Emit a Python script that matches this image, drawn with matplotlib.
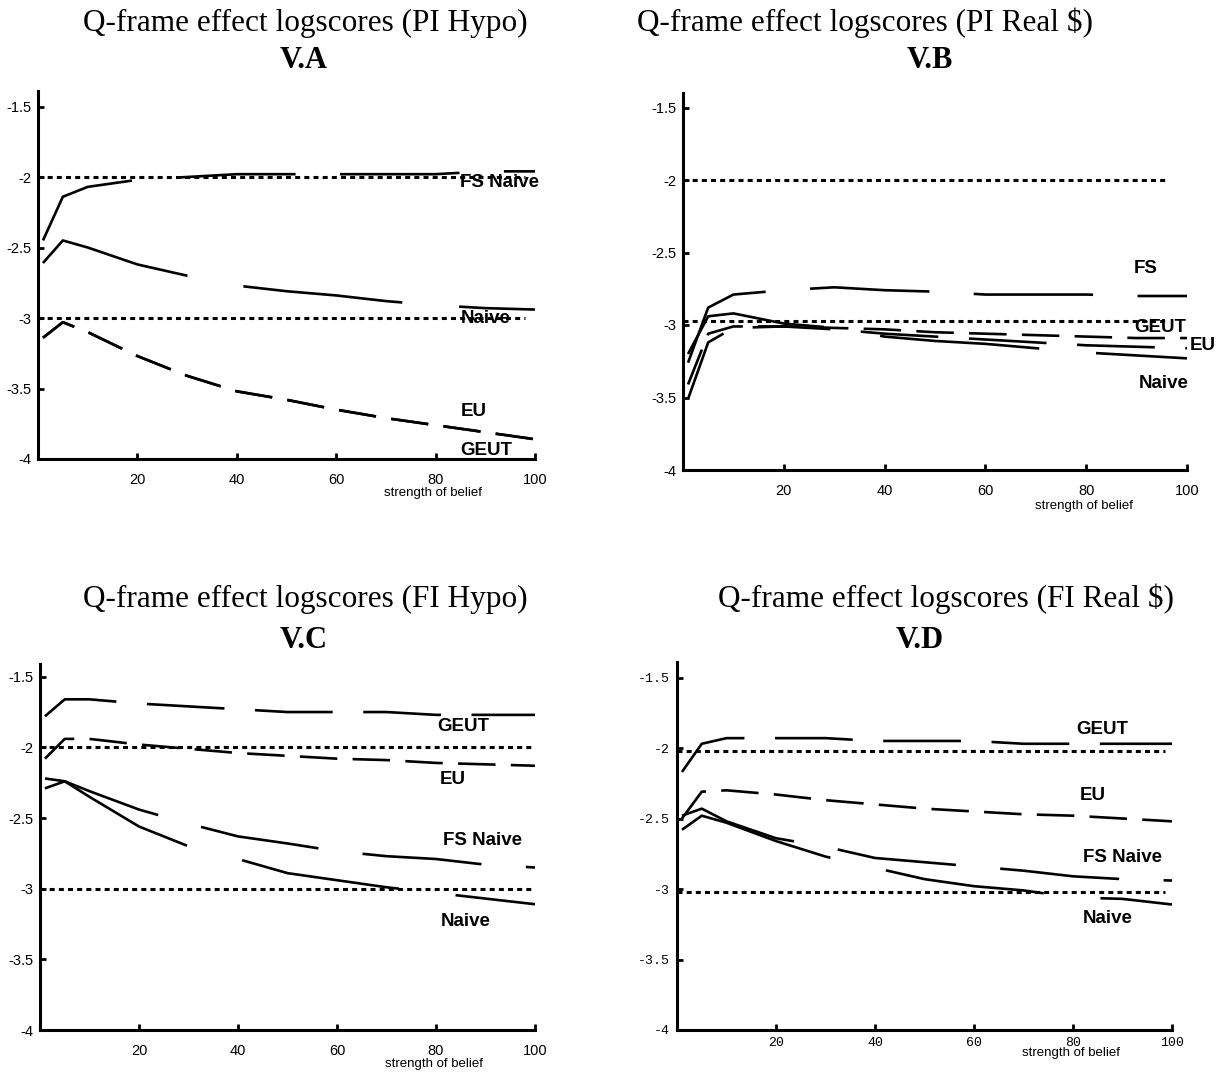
import matplotlib
matplotlib.use('Agg')
import matplotlib.pyplot as plt
import matplotlib.transforms as mtrans
from matplotlib import font_manager

# strength of belief values where the curves were evaluated
x_pts = [1, 5, 10, 20, 30, 40, 50, 60, 70, 80, 90, 100]

# V.A  PI Hypo
a_fs_naive = [-2.45, -2.14, -2.07, -2.02, -2.00, -1.98, -1.98, -1.98, -1.98, -1.98, -1.96, -1.96]
a_naive = [-2.61, -2.45, -2.50, -2.62, -2.70, -2.77, -2.81, -2.84, -2.88, -2.91, -2.93, -2.94]
a_eu = [-3.14, -3.03, -3.10, -3.27, -3.41, -3.52, -3.58, -3.65, -3.71, -3.76, -3.81, -3.86]
a_geut = [-3.14, -3.03, -3.10, -3.27, -3.41, -3.52, -3.58, -3.65, -3.71, -3.76, -3.81, -3.86]

# V.B  PI Real $
b_fs = [-3.26, -2.88, -2.79, -2.76, -2.74, -2.76, -2.77, -2.79, -2.79, -2.79, -2.80, -2.80]
b_naive = [-3.20, -2.94, -2.92, -2.99, -3.02, -3.08, -3.11, -3.13, -3.16, -3.19, -3.21, -3.23]
b_eu = [-3.41, -3.06, -3.01, -3.01, -3.02, -3.03, -3.05, -3.06, -3.07, -3.08, -3.09, -3.09]
b_geut = [-3.51, -3.12, -3.02, -3.01, -3.03, -3.06, -3.08, -3.10, -3.12, -3.14, -3.15, -3.16]

# V.C  FI Hypo
c_geut = [-1.78, -1.66, -1.66, -1.69, -1.71, -1.73, -1.75, -1.75, -1.75, -1.77, -1.77, -1.77]
c_eu = [-2.08, -1.94, -1.94, -1.98, -2.01, -2.04, -2.06, -2.08, -2.09, -2.11, -2.12, -2.13]
c_fs_naive = [-2.22, -2.24, -2.31, -2.44, -2.54, -2.63, -2.68, -2.735, -2.77, -2.79, -2.83, -2.85]
c_naive = [-2.29, -2.24, -2.35, -2.56, -2.70, -2.79, -2.89, -2.94, -2.99, -3.03, -3.07, -3.11]

# V.D  FI Real $
d_geut = [-2.17, -1.97, -1.93, -1.93, -1.93, -1.95, -1.95, -1.95, -1.97, -1.97, -1.97, -1.97]
d_eu = [-2.50, -2.31, -2.30, -2.33, -2.37, -2.40, -2.43, -2.45, -2.47, -2.48, -2.50, -2.52]
d_fs_naive = [-2.48, -2.43, -2.52, -2.64, -2.70, -2.78, -2.81, -2.84, -2.87, -2.91, -2.93, -2.94]
d_naive = [-2.58, -2.48, -2.53, -2.66, -2.77, -2.85, -2.93, -2.98, -3.01, -3.06, -3.07, -3.11]

# dotted reference levels
a_ref = [-2.0, -3.0]
b_ref = [-2.0, -2.97]
c_ref = [-2.0, -3.0]
d_ref = [-2.02, -3.02]

x_ticks = [20, 40, 60, 80, 100]
y_ticks = [-4, -3.5, -3, -2.5, -2, -1.5]
y_tick_labels = ['-4', '-3.5', '-3', '-2.5', '-2', '-1.5']

titles = ['Q-frame effect logscores (PI Hypo)', 'Q-frame effect logscores (PI Real $)',
          'Q-frame effect logscores (FI Hypo)', 'Q-frame effect logscores (FI Real $)']
subtitles = ['V.A', 'V.B', 'V.C', 'V.D']


def pick(*names):
    avail = {f.name for f in font_manager.fontManager.ttflist}
    for n in names:
        if n in avail:
            return n
    return 'DejaVu Sans'


serif = pick('Liberation Serif', 'DejaVu Serif')
narrow = pick('Liberation Sans Narrow', 'Liberation Sans', 'Arial')
mono = pick('Liberation Mono', 'DejaVu Sans Mono')

plt.rcParams['lines.scale_dashes'] = False
plt.rcParams['axes.unicode_minus'] = False

# dash patterns in points
dash = {'FS': (0, (86, 32)), 'Naive': (0, (115, 41)),
        'GEUT': (0, (56, 22)), 'EU': (0, (27, 11))}
dotted = (0, (3.6, 3.0))

W, H = 1219, 1073
fig = plt.figure(figsize=(W / 100, H / 100), dpi=100)


def add_axes_px(left, top, right, bottom):
    return fig.add_axes([left / W, 1 - bottom / H, (right - left) / W, (bottom - top) / H])


panels = [
    dict(box=(38, 91, 535, 459), ylim=(-4, -1.39), ref=a_ref, ref_end=98,
         series=[(a_fs_naive, 'FS'), (a_naive, 'Naive'), (a_geut, 'EU'), (a_eu, 'EU')],
         labels=[('FS Naive', 85.0, -2.04), ('Naive', 85.0, -3.00), ('EU', 85.0, -3.66), ('GEUT', 85.0, -3.94)],
         tickfont=narrow, xpad=10, xlab_y=-0.092),
    dict(box=(683, 93, 1187, 470), ylim=(-4, -1.40), ref=b_ref, ref_end=96,
         series=[(b_fs, 'FS'), (b_naive, 'Naive'), (b_eu, 'EU'), (b_geut, 'GEUT')],
         labels=[('FS', 89.5, -2.61), ('GEUT', 89.5, -3.02), ('EU', 100.5, -3.14), ('Naive', 90.5, -3.40)],
         tickfont=narrow, xpad=10, xlab_y=-0.095),
    dict(box=(40, 664, 535, 1030), ylim=(-4, -1.41), ref=c_ref, ref_end=100,
         series=[(c_geut, 'GEUT'), (c_eu, 'EU'), (c_fs_naive, 'FS'), (c_naive, 'Naive')],
         labels=[('GEUT', 80.3, -1.85), ('EU', 80.8, -2.23), ('FS Naive', 81.4, -2.66), ('Naive', 81.0, -3.23)],
         tickfont=narrow, xpad=10, xlab_y=-0.092),
    dict(box=(677, 662, 1172, 1030), ylim=(-4, -1.39), ref=d_ref, ref_end=98.6,
         series=[(d_geut, 'GEUT'), (d_eu, 'EU'), (d_fs_naive, 'FS'), (d_naive, 'Naive')],
         labels=[('GEUT', 80.7, -1.87), ('EU', 81.3, -2.34), ('FS Naive', 82.0, -2.78), ('Naive', 81.9, -3.21)],
         tickfont=mono, xpad=5, xlab_y=-0.062),
]

title_pos = [(305, 23), (865, 23), (305, 599), (946, 599)]
sub_pos = [(304, 60), (930, 60), (304, 640), (920, 640)]

for i, p in enumerate(panels):
    ax = add_axes_px(*p['box'])
    ax.set_xlim(0, 100)
    ax.set_ylim(*p['ylim'])

    for lev in p['ref']:
        ax.plot([0, p['ref_end']], [lev, lev], color='black', lw=2.2, linestyle=dotted)

    for vals, st in p['series']:
        ax.plot(x_pts, vals, color='black', lw=1.9, linestyle=dash[st],
                dash_capstyle='butt', solid_joinstyle='miter')

    for txt, lx, ly in p['labels']:
        ax.text(lx, ly, txt, ha='left', va='center', fontsize=13.5,
                fontweight='bold', family=narrow, clip_on=False)

    for s in ['top', 'right']:
        ax.spines[s].set_visible(False)
    for s in ['left', 'bottom']:
        ax.spines[s].set_linewidth(2.2)

    ax.set_xticks(x_ticks)
    ax.set_xticklabels([str(t) for t in x_ticks])
    ax.set_yticks(y_ticks)
    ax.set_yticklabels(y_tick_labels)
    fs = 9.5 if p['tickfont'] == mono else 10.5
    ax.tick_params(axis='both', direction='in', width=2, length=4, labelsize=fs)
    ax.tick_params(axis='x', pad=p['xpad'])
    ax.tick_params(axis='y', pad=5)
    for lab in ax.get_xticklabels() + ax.get_yticklabels():
        lab.set_family(p['tickfont'])

    trans = mtrans.blended_transform_factory(ax.transData, ax.transAxes)
    ax.text(79.5, p['xlab_y'], 'strength of belief', transform=trans, ha='center', va='center',
            fontsize=9.5, family=narrow)

    fig.text(title_pos[i][0] / W, 1 - title_pos[i][1] / H, titles[i], ha='center', va='center',
             fontsize=22.5, family=serif)
    fig.text(sub_pos[i][0] / W, 1 - sub_pos[i][1] / H, subtitles[i], ha='center', va='center',
             fontsize=22, fontweight='bold', family=serif)

fig.savefig('out.png', dpi=100, facecolor='white')
